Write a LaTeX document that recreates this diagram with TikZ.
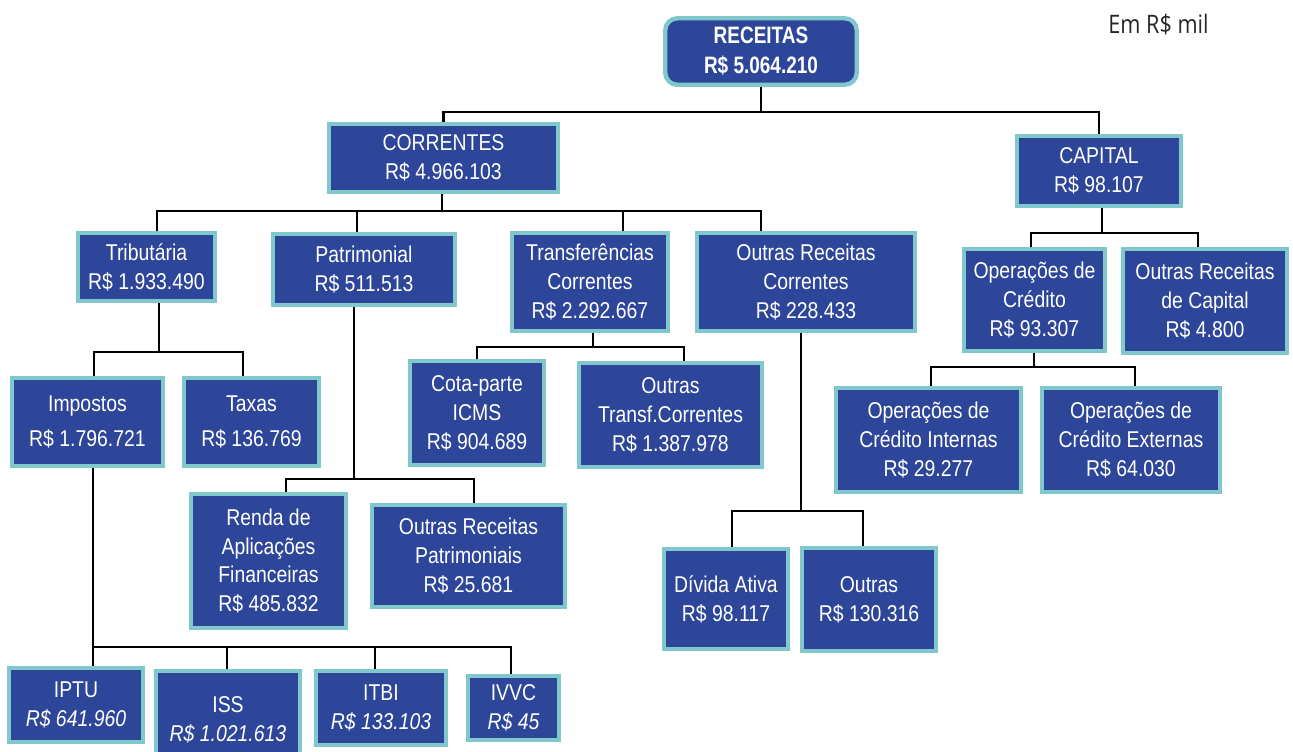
\documentclass[tikz,border=0pt]{standalone}
\usepackage{fontspec}
\newfontfamily\boxfont{Liberation Sans}[FakeStretch=0.85]
\newfontfamily\headfont{Liberation Sans}[FakeStretch=0.8]
\newfontfamily\notefont{Open Sans}[FakeStretch=0.85]
\definecolor{boxfill}{HTML}{2E4699}
\definecolor{boxline}{HTML}{80C8CC}
\tikzset{
  box/.style={draw=boxline, fill=boxfill, line width=2.5pt, text=white, align=center,
    inner sep=0pt, font=\boxfont\fontsize{13}{16.4}\selectfont},
  link/.style={line width=1.3pt, draw=black},
}

\begin{document}
\begin{tikzpicture}[x=0.02cm,y=-0.02cm]
\useasboundingbox (0,0) rectangle (1293,751);
% boxes
\node[box, rounded corners=0.24cm, minimum width=3.83cm, minimum height=1.33cm,
  font=\headfont\bfseries\fontsize{13.5}{17}\selectfont] (rec) at (761,51.5) {RECEITAS\\R\$ 5.064.210};
\node[box, minimum width=4.57cm, minimum height=1.35cm] (corr) at (443.5,158) {CORRENTES\\R\$ 4.966.103};
\node[box, minimum width=3.27cm, minimum height=1.39cm] (cap) at (1099,171) {CAPITAL\\R\$ 98.107};
\node[box, minimum width=2.73cm, minimum height=1.35cm] (trib) at (146.5,267) {Tributária\\R\$ 1.933.490};
\node[box, minimum width=3.63cm, minimum height=1.41cm] (patr) at (364,269.5) {Patrimonial\\R\$ 511.513};
\node[box, minimum width=3.11cm, minimum height=1.95cm] (transf) at (590,282) {Transferências\\Correntes\\R\$ 2.292.667};
\node[box, minimum width=4.35cm, minimum height=1.95cm] (ormc) at (806,282) {Outras Receitas\\Correntes\\R\$ 228.433};
\node[box, minimum width=2.81cm, minimum height=2.03cm] (opc) at (1034.5,300) {Operações de\\Crédito\\R\$ 93.307};
\node[box, minimum width=3.27cm, minimum height=2.07cm] (orcap) at (1205,301) {Outras Receitas\\de Capital\\R\$ 4.800};
\node[box, minimum width=3.01cm, minimum height=1.75cm] (imp) at (87.5,422) {Impostos\\[3.4pt]R\$ 1.796.721};
\node[box, minimum width=2.69cm, minimum height=1.75cm] (tax) at (251.5,422) {Taxas\\[3.4pt]R\$ 136.769};
\node[box, minimum width=2.67cm, minimum height=2.07cm] (cota) at (477,413) {Cota-parte\\ICMS\\R\$ 904.689};
\node[box, minimum width=3.65cm, minimum height=2.07cm] (otc) at (670.5,415) {Outras\\Transf.Correntes\\R\$ 1.387.978};
\node[box, minimum width=3.69cm, minimum height=2.07cm] (opi) at (928.5,440) {Operações de\\Crédito Internas\\R\$ 29.277};
\node[box, minimum width=3.55cm, minimum height=2.07cm] (ope) at (1131,440) {Operações de\\Crédito Externas\\R\$ 64.030};
\node[box, minimum width=3.09cm, minimum height=2.67cm] (renda) at (268.5,561) {Renda de\\Aplicações\\Financeiras\\R\$ 485.832};
\node[box, minimum width=3.85cm, minimum height=2.03cm] (orp) at (468.5,556) {Outras Receitas\\Patrimoniais\\R\$ 25.681};
\node[box, minimum width=2.47cm, minimum height=1.99cm] (div) at (726,599) {Dívida Ativa\\R\$ 98.117};
\node[box, minimum width=2.67cm, minimum height=2.05cm] (outr) at (869,599.5) {Outras\\R\$ 130.316};
\node[box, minimum width=2.67cm, minimum height=1.47cm] (iptu) at (76,705) {IPTU\\\textit{R\$ 641.960}};
\node[box, minimum width=2.87cm, minimum height=1.93cm] (iss) at (228,719.5) {ISS\\\textit{R\$ 1.021.613}};
\node[box, minimum width=2.59cm, minimum height=1.47cm] (itbi) at (381,708) {ITBI\\\textit{R\$ 133.103}};
\node[box, minimum width=1.81cm, minimum height=1.27cm] (ivvc) at (513.5,708) {IVVC\\\textit{R\$ 45}};
\node[anchor=base west, inner sep=0pt, text=black!85, font=\notefont\fontsize{14.5}{18}\selectfont] (note) at (1108,33) {Em R\$ mil};
% RECEITAS
\coordinate (r0) at (764,112);
\draw[link] (rec.south) |- (r0 -| corr.north) -- (corr.north);
\draw[link] (rec.south) |- (r0 -| cap.north) -- (cap.north);
% CORRENTES
\coordinate (c0) at (442,211);
\coordinate (c1) at (157,211);
\coordinate (c2) at (357,211);
\coordinate (c3) at (623,211);
\coordinate (c4) at (761,211);
\draw[link] (c0 |- corr.south) -- (c0);
\draw[link] (c1 |- trib.north) -- (c1) -- (c4) -- (c4 |- ormc.north);
\draw[link] (c2) -- (c2 |- patr.north);
\draw[link] (c3) -- (c3 |- transf.north);
% CAPITAL
\coordinate (k0) at (1102,233);
\coordinate (k1) at (1031,233);
\coordinate (k2) at (1198,233);
\draw[link] (k0 |- cap.south) -- (k0);
\draw[link] (k1 |- opc.north) -- (k1) -- (k2) -- (k2 |- orcap.north);
% Tributaria
\coordinate (t0) at (159,352);
\coordinate (t1) at (94,352);
\coordinate (t2) at (243,352);
\draw[link] (t0 |- trib.south) -- (t0);
\draw[link] (t1 |- imp.north) -- (t1) -- (t2) -- (t2 |- tax.north);
% Patrimonial
\coordinate (p0) at (354,479);
\coordinate (p1) at (286,479);
\coordinate (p2) at (474,479);
\draw[link] (p0 |- patr.south) -- (p0);
\draw[link] (p1 |- renda.north) -- (p1) -- (p2) -- (p2 |- orp.north);
% Transferencias
\coordinate (f0) at (593,347);
\coordinate (f1) at (477,347);
\coordinate (f2) at (684,347);
\draw[link] (f0 |- transf.south) -- (f0);
\draw[link] (f1 |- cota.north) -- (f1) -- (f2) -- (f2 |- otc.north);
% Outras Receitas Correntes
\coordinate (o0) at (801,511);
\coordinate (o1) at (732,511);
\coordinate (o2) at (863,511);
\draw[link] (o0 |- ormc.south) -- (o0);
\draw[link] (o1 |- div.north) -- (o1) -- (o2) -- (o2 |- outr.north);
% Operacoes de Credito
\coordinate (q0) at (1034,367);
\coordinate (q1) at (931,367);
\coordinate (q2) at (1135,367);
\draw[link] (q0 |- opc.south) -- (q0);
\draw[link] (q1 |- opi.north) -- (q1) -- (q2) -- (q2 |- ope.north);
% Impostos
\coordinate (i0) at (93,647);
\coordinate (i2) at (227,647);
\coordinate (i3) at (375,647);
\coordinate (i4) at (511,647);
\draw[link] (i0 |- imp.south) -- (i0 |- iptu.north);
\draw[link] (i0) -- (i4) -- (i4 |- ivvc.north);
\draw[link] (i2) -- (i2 |- iss.north);
\draw[link] (i3) -- (i3 |- itbi.north);
\end{tikzpicture}
\end{document}
